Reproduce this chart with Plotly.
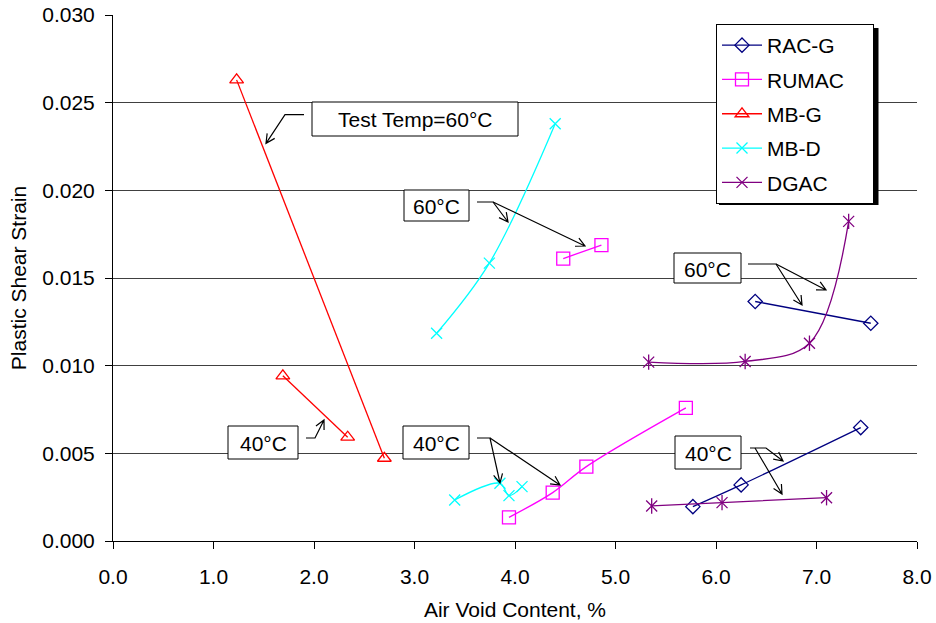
import math
import plotly.graph_objects as go

# ---------------- data ----------------
rac_g_60_x = [6.39, 7.54]
rac_g_60_y = [0.01366, 0.01242]
rac_g_40_x = [5.77, 6.25, 7.44]
rac_g_40_y = [0.00196, 0.00320, 0.00647]

rumac_60_x = [4.48, 4.86]
rumac_60_y = [0.01611, 0.01688]
rumac_40_x = [3.94, 4.375, 4.71, 5.70]
rumac_40_y = [0.00135, 0.00276, 0.00424, 0.00759]

mb_g_60_x = [1.23, 2.70]
mb_g_60_y = [0.0263, 0.00472]
mb_g_40_x = [1.69, 2.335]
mb_g_40_y = [0.00942, 0.00592]

mb_d_60_x = [3.22, 3.745, 4.40]
mb_d_60_y = [0.01185, 0.01585, 0.0238]
mb_d_40_x = [3.40, 3.85, 3.94, 4.07]
mb_d_40_y = [0.00234, 0.00329, 0.00259, 0.00310]

dgac_60_x = [5.33, 6.29, 6.93, 7.32]
dgac_60_y = [0.01020, 0.01024, 0.01128, 0.01823]
dgac_40_x = [5.36, 6.06, 7.10]
dgac_40_y = [0.00200, 0.00219, 0.00247]

series_names = ["RAC-G", "RUMAC", "MB-G", "MB-D", "DGAC"]
x_ticks = [0, 1, 2, 3, 4, 5, 6, 7, 8]
y_ticks = [0.000, 0.005, 0.010, 0.015, 0.020, 0.025, 0.030]

annotation_texts = ["Test Temp=60°C", "60°C", "60°C", "40°C", "40°C", "40°C"]

# ---------------- styling ----------------
FONT = "Liberation Sans, Arial, sans-serif"
FS = 21
W, H = 936, 623
L_PX, R_PX, T_PX, B_PX = 113, 917, 15, 541


def join(a, b):
    return list(a) + [None] + list(b)


def PX(px):
    return (px - L_PX) / (R_PX - L_PX)


def PY(py):
    return (B_PX - py) / (B_PX - T_PX)


fig = go.Figure()

styles = [
    (series_names[0], rac_g_60_x, rac_g_60_y, rac_g_40_x, rac_g_40_y, "#000080", "diamond-open", 11),
    (series_names[1], rumac_60_x, rumac_60_y, rumac_40_x, rumac_40_y, "#FF00FF", "square-open", 13),
    (series_names[2], mb_g_60_x, mb_g_60_y, mb_g_40_x, mb_g_40_y, "#FF0000", "triangle-up-open", 12),
    (series_names[3], mb_d_60_x, mb_d_60_y, mb_d_40_x, mb_d_40_y, "#00FFFF", "x-thin-open", 11),
    (series_names[4], dgac_60_x, dgac_60_y, dgac_40_x, dgac_40_y, "#800080", "x-thin-open", 11),
]

for name, x60, y60, x40, y40, col, sym, sz in styles:
    fig.add_trace(go.Scatter(
        x=join(x60, x40), y=join(y60, y40),
        mode="lines+markers", name=name + "\u00a0\u00a0\u00a0\u00a0",
        legendgroup=name,
        line=dict(color=col, width=1.3, shape="spline", smoothing=1.0),
        marker=dict(symbol=sym, size=sz, color=col, line=dict(color=col, width=1.3)),
        connectgaps=False,
    ))

# vertical stroke to turn DGAC x into the Excel-style star
fig.add_trace(go.Scatter(
    x=join(dgac_60_x, dgac_40_x), y=join(dgac_60_y, dgac_40_y),
    mode="markers", showlegend=False, hoverinfo="skip",
    marker=dict(symbol="line-ns-open", size=11, color="#800080",
                line=dict(color="#800080", width=1.3)),
))

# ---------------- annotations (boxes + connectors), in pixel space ----------------
boxes = [  # (cx, cy, w, h)
    (415, 119, 206, 34),
    (436.5, 205.5, 65, 31),
    (707.5, 268, 67, 30),
    (263, 442.5, 70, 33),
    (436, 442.5, 66, 33),
    (708, 452.5, 66, 33),
]
connectors = [  # each is a list of polylines; arrowhead at end of each polyline
    [[(304, 114.7), (285, 114.7), (266, 143.3)]],
    [[(477, 202), (493, 202), (508, 222)], [(493, 202), (585, 246)]],
    [[(748, 264), (776, 264), (802, 305)], [(776, 264), (826, 290)]],
    [[(306, 438), (315, 438), (324, 420)]],
    [[(477, 438), (490, 438), (500, 483)], [(490, 438), (560, 485)]],
    [[(750, 448), (766, 448), (783, 461)], [(755, 448), (782, 494)]],
]

shapes = []
for (cx, cy, w, h), txt in zip(boxes, annotation_texts):
    shapes.append(dict(type="rect", xref="paper", yref="paper",
                       x0=PX(cx - w / 2), x1=PX(cx + w / 2),
                       y0=PY(cy + h / 2), y1=PY(cy - h / 2),
                       line=dict(color="black", width=1), fillcolor="white", layer="above"))
    fig.add_annotation(xref="paper", yref="paper", x=PX(cx), y=PY(cy + 1),
                       text=txt, showarrow=False, xanchor="center", yanchor="middle",
                       font=dict(family=FONT, size=FS, color="black"))

HEAD_L, HEAD_A = 10, math.radians(27)
for group in connectors:
    for pl in group:
        d = "M " + " L ".join(f"{PX(x):.5f},{PY(y):.5f}" for x, y in pl)
        (x1, y1), (x2, y2) = pl[-2], pl[-1]
        ang = math.atan2(y2 - y1, x2 - x1)
        a1 = (x2 - HEAD_L * math.cos(ang - HEAD_A), y2 - HEAD_L * math.sin(ang - HEAD_A))
        a2 = (x2 - HEAD_L * math.cos(ang + HEAD_A), y2 - HEAD_L * math.sin(ang + HEAD_A))
        d += (f" M {PX(a1[0]):.5f},{PY(a1[1]):.5f} L {PX(x2):.5f},{PY(y2):.5f}"
              f" L {PX(a2[0]):.5f},{PY(a2[1]):.5f}")
        shapes.append(dict(type="path", xref="paper", yref="paper", path=d,
                           line=dict(color="black", width=1.2), layer="above"))

# legend shadow
shapes.append(dict(type="rect", xref="paper", yref="paper",
                   x0=PX(719), x1=PX(878.5), y0=PY(205), y1=PY(28),
                   line=dict(width=0), fillcolor="black", layer="above"))

fig.update_layout(
    width=W, height=H,
    margin=dict(l=L_PX, r=W - R_PX, t=T_PX, b=H - B_PX, pad=0, autoexpand=False),
    paper_bgcolor="white", plot_bgcolor="white",
    font=dict(family=FONT, size=FS, color="black"),
    shapes=shapes,
    showlegend=True,
    legend=dict(x=PX(716), y=PY(24), xanchor="left", yanchor="top",
                bgcolor="white", bordercolor="black", borderwidth=1,
                font=dict(family=FONT, size=FS, color="black"),
                tracegroupgap=4, itemwidth=40),
    xaxis=dict(range=[0, 8], tickvals=x_ticks, tickformat=".1f", automargin=False,
               showgrid=False, zeroline=False, showline=True, linecolor="black",
               linewidth=1, ticks="outside", ticklen=7, tickcolor="black",
               ticklabelstandoff=10,
               title=dict(text="Air Void Content, %", standoff=15,
                          font=dict(family=FONT, size=FS))),
    yaxis=dict(range=[0, 0.030], tickvals=y_ticks, tickformat=".3f", automargin=False,
               showgrid=True, gridcolor="#404040", gridwidth=1,
               zeroline=False, showline=True, linecolor="black",
               linewidth=1, ticks="outside", ticklen=7, tickcolor="black",
               ticklabelstandoff=6,
               title=dict(text="Plastic Shear Strain", standoff=9,
                          font=dict(family=FONT, size=FS))),
)

fig.write_html("out.html")
